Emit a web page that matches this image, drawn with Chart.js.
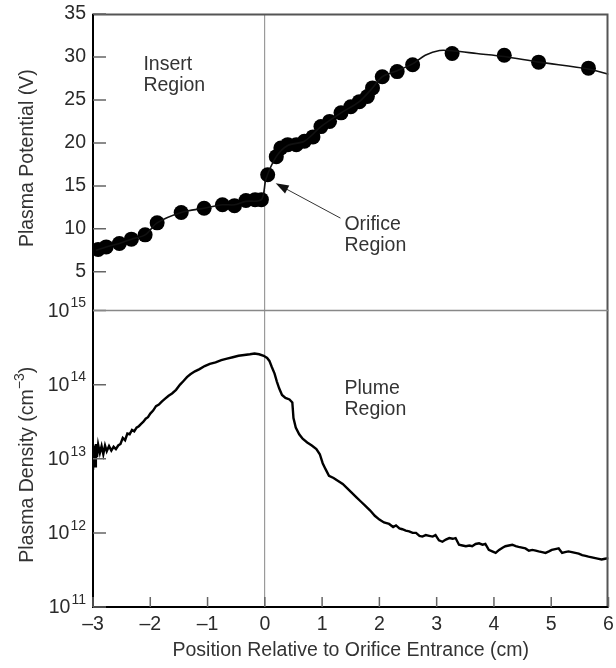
<!DOCTYPE html>
<html>
<head>
<meta charset="utf-8">
<script src="https://cdn.jsdelivr.net/npm/chart.js@4"></script>
<style>
  html, body { margin: 0; padding: 0; background: #fff; overflow: hidden; }
  canvas { display: block; }
</style>
</head>
<body>
<canvas id="plasma" width="616" height="668"></canvas>
<script>
// potencial del plasma (marcadores)
const potX = [-2.91, -2.77, -2.54, -2.33, -2.09, -1.88, -1.46, -1.06, -0.74, -0.53, -0.33, -0.17, -0.06,
  0.05, 0.20, 0.28, 0.40, 0.55, 0.69, 0.84, 0.98, 1.13, 1.33, 1.50, 1.65, 1.79, 1.88, 2.05, 2.31, 2.58,
  3.27, 4.18, 4.78, 5.65];
const potV = [7.6, 7.9, 8.3, 8.8, 9.3, 10.7, 11.9, 12.4, 12.8, 12.7, 13.3, 13.4, 13.4,
  16.3, 18.4, 19.4, 19.8, 19.8, 20.2, 20.7, 21.9, 22.5, 23.5, 24.2, 24.8, 25.4, 26.4, 27.7, 28.3, 29.1,
  30.4, 30.2, 29.4, 28.7];

// curva que pasa por los marcadores
const curveX = [-2.95, -2.77, -2.54, -2.33, -2.09, -1.88, -1.46, -1.06, -0.74, -0.53, -0.33, -0.06,
  0.02, 0.20, 0.40, 0.69, 0.98, 1.33, 1.65, 1.88, 2.05, 2.31, 2.58, 2.8, 3.05, 3.3, 3.7, 4.18, 4.78, 5.65, 6.0];
const curveV = [7.5, 7.9, 8.3, 8.8, 9.3, 10.7, 11.9, 12.4, 12.8, 12.8, 13.2, 13.4,
  15.8, 18.4, 19.7, 20.2, 21.9, 23.5, 24.8, 26.4, 27.7, 28.4, 29.2, 30.2, 30.75, 30.7, 30.4, 30.05, 29.4, 28.6, 28.0];

// densidad del plasma (cm^-3)
const densX = [-3.00, -2.98, -2.96, -2.95, -2.93, -2.91, -2.88, -2.85, -2.82, -2.79, -2.76, -2.72, -2.68, -2.64,
  -2.60, -2.56, -2.52, -2.48, -2.44, -2.40, -2.36, -2.32, -2.28, -2.24, -2.20, -2.16, -2.12, -2.08, -2.04, -2.00,
  -1.95, -1.90, -1.85, -1.80, -1.74, -1.68, -1.62, -1.55, -1.48, -1.42, -1.36, -1.30, -1.22, -1.14, -1.05, -0.96,
  -0.86, -0.76, -0.66, -0.56, -0.46, -0.36, -0.26, -0.18, -0.10, -0.02, 0.04, 0.08, 0.12, 0.17, 0.21, 0.25, 0.30,
  0.36, 0.43, 0.48, 0.50, 0.54, 0.60, 0.66, 0.74, 0.82, 0.90, 0.96, 1.01, 1.06, 1.12, 1.20, 1.28, 1.36, 1.44, 1.52,
  1.60, 1.68, 1.76, 1.84, 1.92, 2.00, 2.08, 2.17, 2.24, 2.29, 2.35, 2.40, 2.46, 2.52, 2.58, 2.64, 2.70, 2.75, 2.81,
  2.87, 2.93, 2.98, 3.04, 3.10, 3.16, 3.22, 3.28, 3.33, 3.39, 3.45, 3.51, 3.57, 3.62, 3.68, 3.74, 3.80, 3.85, 3.91,
  3.97, 4.03, 4.09, 4.15, 4.20, 4.26, 4.32, 4.38, 4.43, 4.49, 4.55, 4.61, 4.67, 4.73, 4.78, 4.84, 4.90, 4.96, 5.01,
  5.07, 5.13, 5.19, 5.24, 5.30, 5.36, 5.42, 5.48, 5.54, 5.60, 5.65, 5.71, 5.77, 5.83, 5.88, 5.94, 6.00];
const densN = [7.08e12, 1.51e13, 7.94e12, 1.58e13, 1.05e13, 1.55e13, 1.20e13, 1.48e13, 1.15e13, 1.51e13, 1.26e13, 1.48e13, 1.29e13, 1.45e13,
  1.35e13, 1.51e13, 1.58e13, 1.91e13, 1.78e13, 2.19e13, 2.14e13, 2.45e13, 2.34e13, 2.63e13, 2.75e13, 2.95e13, 3.16e13, 3.47e13, 3.63e13, 4.07e13,
  4.47e13, 5.13e13, 5.37e13, 5.89e13, 6.46e13, 7.08e13, 7.59e13, 8.51e13, 1.00e14, 1.12e14, 1.26e14, 1.38e14, 1.51e14, 1.62e14, 1.78e14, 1.91e14,
  2.00e14, 2.14e14, 2.24e14, 2.34e14, 2.45e14, 2.51e14, 2.57e14, 2.63e14, 2.57e14, 2.45e14, 2.29e14, 2.09e14, 1.74e14, 1.41e14, 1.10e14, 8.91e13, 7.24e13,
  6.61e13, 6.31e13, 5.75e13, 3.55e13, 2.63e13, 2.14e13, 1.86e13, 1.66e13, 1.51e13, 1.35e13, 1.15e13, 8.71e12, 7.24e12, 5.89e12, 5.50e12, 5.01e12, 4.57e12, 3.98e12, 3.47e12,
  3.02e12, 2.63e12, 2.29e12, 2.00e12, 1.70e12, 1.51e12, 1.38e12, 1.32e12, 1.20e12, 1.26e12, 1.15e12, 1.12e12, 1.07e12, 1.05e12, 1.00e12, 1.00e12, 9.12e11, 8.91e11, 9.33e11,
  9.12e11, 8.91e11, 9.33e11, 7.94e11, 7.59e11, 8.13e11, 8.51e11, 8.32e11, 8.51e11, 6.92e11, 6.76e11, 6.61e11, 6.76e11, 6.61e11, 7.08e11, 7.24e11, 6.92e11, 7.08e11, 5.89e11,
  5.62e11, 5.37e11, 5.89e11, 6.31e11, 6.61e11, 6.76e11, 6.92e11, 6.61e11, 6.46e11, 6.31e11, 6.17e11, 5.75e11, 5.89e11, 5.75e11, 5.62e11, 5.50e11, 5.37e11, 5.62e11, 5.89e11,
  6.03e11, 6.17e11, 5.37e11, 5.50e11, 5.62e11, 5.50e11, 5.37e11, 5.25e11, 5.01e11, 4.90e11, 4.79e11, 4.68e11, 4.57e11, 4.47e11, 4.37e11, 4.47e11, 4.57e11];

// ticks
const xTicks = [-3, -2, -1, 0, 1, 2, 3, 4, 5, 6];
const potTicks = [5, 10, 15, 20, 25, 30, 35];
const densTicks = [1e11, 1e12, 1e13, 1e14, 1e15];

const FONT = "'Liberation Sans', Arial, sans-serif";
const TXT = '#2a2a2a';

const toPts = (xs, ys) => xs.map((x, i) => ({ x: x, y: ys[i] }));

// sin relleno extra por las etiquetas de los extremos
const noPad = s => { s.paddingTop = 0; s.paddingBottom = 0; s.paddingLeft = 0; s.paddingRight = 0; };

// etiquetas, marcos y ticks hacia adentro
const decorPlugin = {
  id: 'decor',
  afterDraw(chart) {
    const { ctx, chartArea: a, scales } = chart;
    const x = scales.x, yP = scales.yP, yD = scales.yD;
    const top = a.top, bottom = a.bottom, left = a.left, right = a.right;
    ctx.save();
    ctx.setLineDash([]);
    ctx.globalAlpha = 1;

    // marco
    ctx.lineWidth = 2;
    ctx.strokeStyle = '#555';
    ctx.strokeRect(left, top + 0.5, right - left - 1, bottom - top - 0.5);
    ctx.strokeStyle = '#000';
    ctx.beginPath(); ctx.moveTo(left, top); ctx.lineTo(left, bottom); ctx.lineTo(right, bottom); ctx.stroke();

    // ticks hacia adentro
    ctx.strokeStyle = '#666';
    ctx.lineWidth = 1.5;
    ctx.beginPath();
    potTicks.forEach(v => { const py = yP.getPixelForValue(v); ctx.moveTo(left, py); ctx.lineTo(left + 13, py); });
    densTicks.forEach(v => { const py = yD.getPixelForValue(v); ctx.moveTo(left, py); ctx.lineTo(left + 13, py); });
    xTicks.forEach(v => { const px = x.getPixelForValue(v); ctx.moveTo(px, bottom); ctx.lineTo(px, bottom - 10); });
    ctx.stroke();

    // separador entre paneles
    ctx.strokeStyle = '#888';
    ctx.lineWidth = 1.5;
    ctx.beginPath();
    ctx.moveTo(left, yD.top); ctx.lineTo(right, yD.top);
    ctx.stroke();

    // etiquetas 10^n
    ctx.fillStyle = TXT;
    ctx.textBaseline = 'middle';
    densTicks.forEach(v => {
      const py = yD.getPixelForValue(v);
      const exp = String(Math.round(Math.log10(v)));
      ctx.font = '14px ' + FONT;
      const sw = ctx.measureText(exp).width;
      ctx.textAlign = 'left';
      ctx.fillText(exp, left - 7 - sw, py - 7);
      ctx.font = '19.5px ' + FONT;
      ctx.textAlign = 'right';
      ctx.fillText('10', left - 8 - sw, py + 1);
    });

    // títulos de ejes
    ctx.font = '19.5px ' + FONT;
    ctx.textAlign = 'center';
    ctx.fillStyle = '#333';
    ctx.save();
    ctx.translate(28, (yP.top + yP.bottom) / 2 - 4);
    ctx.rotate(-Math.PI / 2);
    ctx.fillText('Plasma Potential (V)', 0, 0);
    ctx.restore();

    ctx.save();
    ctx.translate(28, (yD.top + yD.bottom) / 2 + 6);
    ctx.rotate(-Math.PI / 2);
    const p1 = 'Plasma Density (cm', sup = '\u22123', p2 = ')';
    ctx.font = '19.5px ' + FONT;
    const w1 = ctx.measureText(p1).width, w3 = ctx.measureText(p2).width;
    ctx.font = '14px ' + FONT;
    const w2 = ctx.measureText(sup).width;
    let sx = -(w1 + w2 + w3) / 2;
    ctx.textAlign = 'left';
    ctx.font = '19.5px ' + FONT;
    ctx.fillText(p1, sx, 0);
    ctx.font = '14px ' + FONT;
    ctx.fillText(sup, sx + w1, -8);
    ctx.font = '19.5px ' + FONT;
    ctx.fillText(p2, sx + w1 + w2, 0);
    ctx.restore();

    ctx.fillText('Position Relative to Orifice Entrance (cm)', (left + right) / 2, 651);

    // notas
    const notes = [
      { lines: ['Insert', 'Region'], x: -2.12, y: 29.07, s: yP },
      { lines: ['Orifice', 'Region'], x: 1.39, y: 10.47, s: yP },
      { lines: ['Plume', 'Region'], x: 1.39, y: 8.8e13, s: yD }
    ];
    ctx.font = '19.5px ' + FONT;
    ctx.textAlign = 'left';
    notes.forEach(n => {
      const px = x.getPixelForValue(n.x), py = n.s.getPixelForValue(n.y);
      n.lines.forEach((t, i) => ctx.fillText(t, px, py + i * 21));
    });

    // flecha
    const x0 = x.getPixelForValue(1.32), y0 = yP.getPixelForValue(11.25);
    const x1 = x.getPixelForValue(0.19), y1 = yP.getPixelForValue(15.3);
    const ang = Math.atan2(y1 - y0, x1 - x0);
    ctx.strokeStyle = '#333';
    ctx.lineWidth = 1;
    ctx.beginPath(); ctx.moveTo(x0, y0); ctx.lineTo(x1 - 8 * Math.cos(ang), y1 - 8 * Math.sin(ang)); ctx.stroke();
    ctx.fillStyle = '#111';
    ctx.beginPath();
    ctx.moveTo(x1, y1);
    ctx.lineTo(x1 - 13 * Math.cos(ang) + 4.5 * Math.sin(ang), y1 - 13 * Math.sin(ang) - 4.5 * Math.cos(ang));
    ctx.lineTo(x1 - 13 * Math.cos(ang) - 4.5 * Math.sin(ang), y1 - 13 * Math.sin(ang) + 4.5 * Math.cos(ang));
    ctx.closePath();
    ctx.fill();

    ctx.restore();
  }
};

new Chart(document.getElementById('plasma').getContext('2d'), {
  type: 'scatter',
  data: {
    datasets: [
      {
        data: toPts(curveX, curveV),
        yAxisID: 'yP',
        showLine: true,
        borderColor: '#111',
        borderWidth: 1.6,
        pointRadius: 0,
        tension: 0.3
      },
      {
        data: toPts(potX, potV),
        yAxisID: 'yP',
        pointRadius: 7.5,
        backgroundColor: '#000',
        borderWidth: 0
      },
      {
        data: toPts(densX, densN),
        yAxisID: 'yD',
        showLine: true,
        borderColor: '#000',
        borderWidth: 2.4,
        pointRadius: 0
      }
    ]
  },
  options: {
    responsive: false,
    animation: false,
    layout: { padding: { top: 14, right: 6, left: 0, bottom: 0 } },
    plugins: { legend: { display: false }, tooltip: { enabled: false } },
    scales: {
      x: {
        type: 'linear',
        min: -3,
        max: 6,
        afterBuildTicks: s => { s.ticks = xTicks.map(v => ({ value: v })); },
        afterFit: s => { s.height = 61; noPad(s); },
        ticks: {
          padding: 6,
          color: TXT,
          font: { family: FONT, size: 19.5 },
          maxRotation: 0,
          callback: v => v < 0 ? '\u2013' + Math.abs(v) : String(v)
        },
        grid: {
          drawTicks: false,
          lineWidth: 1.2,
          color: c => (c.tick && c.tick.value === 0) ? '#9a9a9a' : 'rgba(0,0,0,0)'
        },
        border: { display: false }
      },
      // el primer eje de la pila queda abajo
      yD: {
        type: 'logarithmic',
        position: 'left',
        stack: 'paneles',
        stackWeight: 1,
        min: 1e11,
        max: 1e15,
        afterFit: s => { s.width = 93; noPad(s); },
        ticks: { display: false },
        grid: { display: false, drawTicks: false },
        border: { display: false }
      },
      yP: {
        type: 'linear',
        position: 'left',
        stack: 'paneles',
        stackWeight: 1,
        min: 0.5,
        max: 35,
        afterBuildTicks: s => { s.ticks = potTicks.map(v => ({ value: v })); },
        afterFit: s => { s.width = 93; noPad(s); },
        ticks: { padding: 7, color: TXT, font: { family: FONT, size: 19.5 } },
        grid: { display: false, drawTicks: false },
        border: { display: false }
      }
    }
  },
  plugins: [decorPlugin]
});
</script>
</body>
</html>
